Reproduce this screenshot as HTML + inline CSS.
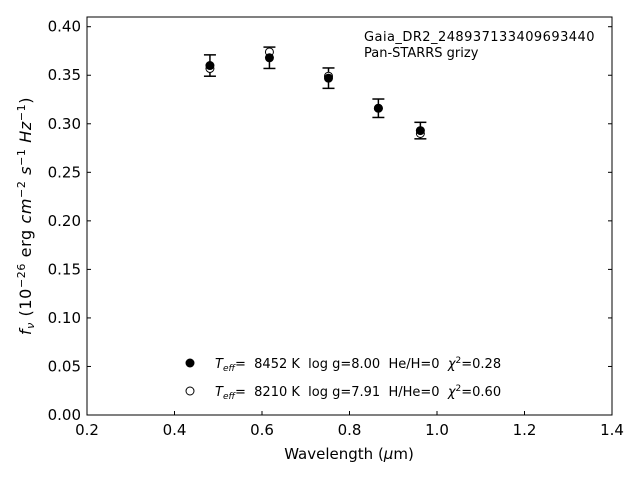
<!DOCTYPE html>
<html><head><meta charset="utf-8"><style>
body{margin:0;background:#fff;width:640px;height:480px;overflow:hidden}
text{font-family:"DejaVu Sans","Liberation Sans",sans-serif;white-space:pre}
</style></head><body>
<svg id="c" width="640" height="480" xmlns="http://www.w3.org/2000/svg"></svg>
<script>
const wavelengths=[0.481,0.617,0.752,0.866,0.962];
const fluxObs=[0.360,0.368,0.347,0.316,0.293];
const fluxErr=[0.011,0.011,0.0105,0.0095,0.0085];
const fluxModel2=[0.357,0.374,0.349,0.316,0.290];
const xTicks=[0.2,0.4,0.6,0.8,1.0,1.2,1.4];
const yTicks=[0.00,0.05,0.10,0.15,0.20,0.25,0.30,0.35,0.40];
const L=87,R=612,T=17,B=415;
const xs=v=>L+(v-0.2)/(1.2)*(R-L);
const ys=v=>B-v/0.41*(B-T);
const svg=document.getElementById('c');
const NS='http://www.w3.org/2000/svg';
function mk(t,a,p){const e=document.createElementNS(NS,t);for(const k in a)e.setAttribute(k,a[k]);(p||svg).appendChild(e);return e;}
let r=mk('rect',{x:L,y:T,width:R-L,height:B-T,fill:'none',stroke:'#000','stroke-width':1});


xTicks.forEach(v=>{const x=xs(v);
 let l=mk('line',{x1:x,x2:x,y1:B,y2:B-4,stroke:'#000'});
 
 
 let t=mk('text',{x:x,y:B+20,'text-anchor':'middle','font-size':15});t.textContent=v.toFixed(1);
 
 });
yTicks.forEach(v=>{const y=ys(v);
 let l=mk('line',{x1:L,x2:L+4,y1:y,y2:y,stroke:'#000'});
 
 
 let l2=mk('line',{x1:R,x2:R-4,y1:y,y2:y,stroke:'#000'});
 
 
 let t=mk('text',{x:L-6,y:y+5,'text-anchor':'end','font-size':15});t.textContent=v.toFixed(2);
 
 });
wavelengths.forEach((w,i)=>{const x=xs(w);
 const g=mk('g',{});
 
 
 const y1=ys(fluxObs[i]+fluxErr[i]),y2=ys(fluxObs[i]-fluxErr[i]);
 mk('line',{x1:x,x2:x,y1:y1,y2:y2,stroke:'#000','stroke-width':1.5},g);
 mk('line',{x1:x-6,x2:x+6,y1:y1,y2:y1,stroke:'#000','stroke-width':1.5},g);
 mk('line',{x1:x-6,x2:x+6,y1:y2,y2:y2,stroke:'#000','stroke-width':1.5},g);
 mk('circle',{cx:x,cy:ys(fluxModel2[i]),r:4,fill:'#fff',stroke:'#000','stroke-width':1},g);
 mk('circle',{cx:x,cy:ys(fluxObs[i]),r:4.5,fill:'#000'},g);
});
function txt(x,y,s,fs,name,anchor){const t=mk('text',{x:x,y:y,'font-size':fs,'text-anchor':anchor||'start'});t.innerHTML=s;return t;}
const on=txt(364,41,'Gaia_DR2_248937133409693440',13,'object-name');
on.setAttribute('letter-spacing','0.45');
txt(364,57,'Pan-STARRS grizy',13,'survey-label');
const lg1=mk('circle',{cx:190,cy:363,r:4.5,fill:'#000'});


const lg2=mk('circle',{cx:190,cy:391,r:4,fill:'#fff',stroke:'#000'});


txt(215,368,'<tspan font-style="italic">T</tspan><tspan font-size="9" dy="3" font-style="italic">eff</tspan><tspan dy="-3">=  8452 K  log g=8.00  He/H=0  </tspan><tspan font-style="italic">χ</tspan><tspan font-size="9" dy="-5">2</tspan><tspan dy="5">=0.28</tspan>',13,'legend-entry-1');
txt(215,396,'<tspan font-style="italic">T</tspan><tspan font-size="9" dy="3" font-style="italic">eff</tspan><tspan dy="-3">=  8210 K  log g=7.91  H/He=0  </tspan><tspan font-style="italic">χ</tspan><tspan font-size="9" dy="-5">2</tspan><tspan dy="5">=0.60</tspan>',13,'legend-entry-2');
txt(349,459,'Wavelength (<tspan font-style="italic">μ</tspan>m)',15,'x-axis-title','middle');
const yt=txt(0,0,'<tspan font-style="italic">f</tspan><tspan font-size="11" dy="3" font-style="italic">ν</tspan><tspan dy="-3"> (10</tspan><tspan font-size="11" dy="-6">−26</tspan><tspan dy="6"> erg </tspan><tspan font-style="italic">cm</tspan><tspan font-size="11" dy="-6">−2</tspan><tspan dy="6" font-style="italic"> s</tspan><tspan font-size="11" dy="-6">−1</tspan><tspan dy="6" font-style="italic"> Hz</tspan><tspan font-size="11" dy="-6">−1</tspan><tspan dy="6">)</tspan>',16,'y-axis-title','middle');
yt.setAttribute('letter-spacing','0.6');
yt.setAttribute('transform','translate(31,216) rotate(-90)');
</script>
</body></html>
